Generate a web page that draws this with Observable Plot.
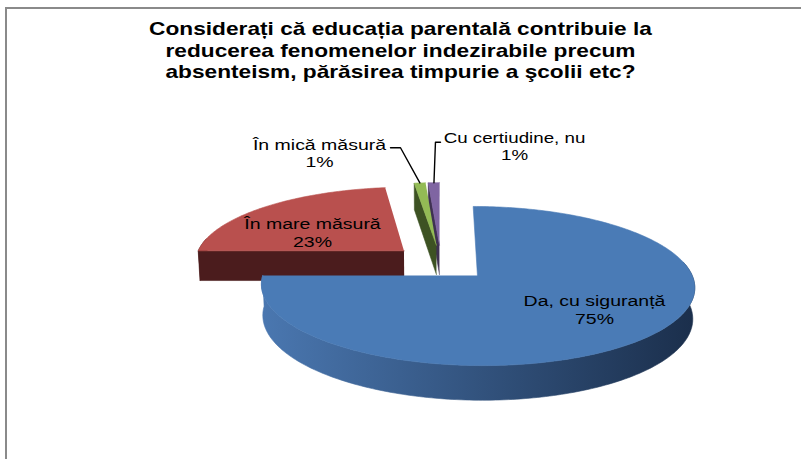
<!DOCTYPE html>
<html><head><meta charset="utf-8">
<script src="https://cdn.jsdelivr.net/npm/d3@7"></script>
<script src="https://cdn.jsdelivr.net/npm/@observablehq/plot@0.6"></script>
<style>
html,body{margin:0;padding:0;background:#fff;}
#wrap{position:relative;width:801px;height:459px;overflow:hidden;}
#wrap svg.chart{position:absolute;left:0;top:0;}
#frame{position:absolute;left:5px;top:7px;width:820px;height:470px;border-top:2px solid #8a8a8a;border-left:2px solid #8a8a8a;}
</style></head>
<body><div id="wrap"><div id="frame"></div></div>
<script>
// ---- data ----
const title = "Considerați că educația parentală contribuie la\nreducerea fenomenelor indezirabile precum\nabsenteism, părăsirea timpurie a şcolii etc?";
const categories = ["Da, cu siguranță", "În mare măsură", "În mică măsură", "Cu certiudine, nu"];
const values = [75, 23, 1, 1];
const topColors = ["#4a7bb6", "#b9504e", "#93bb55", "#7f65a2"];
const sideColors = ["#4a77b0", "#4b1c1d", "#3d5223", "#3f3152"];
const sideGradientEnd = "#1b2f4c";

// ---- layout ----
const W = 801, H = 459;
const CX = 440.5, CY = 262, S = 210, SINT = 0.356, COST = Math.sqrt(1 - SINT * SINT);
const DIST = 7.2, THICK = 0.155, EXPLODE = 0.24;
const labelPos = [[594, 309], [312, 232], [319, 152.5], [514, 145.5]];
const labelStretch = [1.3, 1.3, 1.3, 1.25];
const leaderLabels = [2, 3];
const FONT = "'Liberation Sans', Arial, sans-serif";
const deg = Math.PI / 180;

function proj(X, Z, h) {
  const v = Z * SINT + h * COST;
  const w = Z * COST - h * SINT;
  const s = DIST / (DIST + w);
  return [CX + S * X * s, CY - S * v * s];
}

const arcs = d3.pie().sort(null).value(d => d)(values);
const slices = arcs.map((a, i) => {
  const m = (a.startAngle + a.endAngle) / 2;
  const ox = EXPLODE * Math.sin(m), oz = EXPLODE * Math.cos(m);
  return {
    i, a0: a.startAngle, a1: a.endAngle, m, oz,
    rim: (t, h) => proj(ox + Math.sin(t), oz + Math.cos(t), h),
    ctr: h => proj(ox, oz, h)
  };
});

// gradient definition for the shaded side of the main slice
const gx0 = slices[0].rim(270 * deg, 0)[0], gx1 = slices[0].rim(90 * deg, 0)[0];
const defs = d3.select("#wrap").append("svg").attr("width", 0).attr("height", 0)
  .style("position", "absolute").append("defs");
const lg = defs.append("linearGradient").attr("id", "sideGrad")
  .attr("gradientUnits", "userSpaceOnUse").attr("x1", gx0).attr("x2", gx1).attr("y1", 0).attr("y2", 0);
lg.append("stop").attr("offset", 0).attr("stop-color", sideColors[0]);
lg.append("stop").attr("offset", 1).attr("stop-color", sideGradientEnd);

const polys = [];
let pid = 0;
function addPoly(pts, c) { const id = pid++; pts.forEach(([x, y]) => polys.push({id, x, y, c})); }
function arcPts(rim, t0, t1, h) {
  const n = Math.max(2, Math.ceil(Math.abs(t1 - t0) / deg));
  return d3.range(n + 1).map(k => rim(t0 + (t1 - t0) * k / n, h));
}

const order = slices.slice().sort((a, b) => b.oz - a.oz);
for (const s of order) {
  const T = -THICK;
  const s0 = Math.max(s.a0, 80 * deg), s1 = Math.min(s.a1, 280 * deg);
  if (s1 > s0) {
    addPoly([...arcPts(s.rim, s0, s1, 0), ...arcPts(s.rim, s1, s0, T)],
      s.i === 0 ? "url(#sideGrad)" : sideColors[s.i]);
  }
  if (Math.sin(s.a0) < -1e-6) addPoly([s.ctr(0), s.rim(s.a0, 0), s.rim(s.a0, T), s.ctr(T)], sideColors[s.i]);
  if (Math.sin(s.a1) > 1e-6) addPoly([s.ctr(0), s.rim(s.a1, 0), s.rim(s.a1, T), s.ctr(T)], sideColors[s.i]);
  addPoly([s.ctr(0), ...arcPts(s.rim, s.a0, s.a1, 0)], topColors[s.i]);
}

// labels
const labelData = categories.map((name, i) => ({
  x: labelPos[i][0], y: labelPos[i][1],
  t: name + "\n" + Math.round(values[i] / d3.sum(values) * 100) + "%"
}));

// leader lines
const leaders = [];
leaderLabels.forEach(i => {
  const s = slices[i];
  const end = s.rim(s.m, 0);
  const lp = labelPos[i];
  const line1Y = lp[1] - 8.75;
  let start, elbow;
  if (i === 2) { start = [lp[0] + 71, line1Y + 3.5]; elbow = [start[0] + 10, start[1]]; }
  else { start = [lp[0] - 74, line1Y + 5]; elbow = [end[0] + 1.5, start[1]]; }
  [start, elbow, end].forEach(([x, y]) => leaders.push({id: i, x, y}));
});

const svg = Plot.plot({
  width: W, height: H, margin: 0,
  className: "chart",
  x: {domain: [0, W], range: [0, W], axis: null},
  y: {domain: [0, H], range: [0, H], axis: null},
  color: {type: "identity"},
  style: {background: "transparent", fontFamily: FONT},
  marks: [
    Plot.line(polys, {x: "x", y: "y", z: "id", fill: "c", stroke: "c", strokeWidth: 0.6, curve: "linear"}),
    Plot.line(leaders, {x: "x", y: "y", z: "id", stroke: "#000", strokeWidth: 1.4}),
    Plot.text(labelData, {x: "x", y: "y", text: "t", fontSize: 15, lineHeight: 1.17, fill: "#000", fontFamily: FONT}),
    Plot.text([title], {x: () => 400, y: () => 49, text: d => d, fontSize: 18, fontWeight: "bold", lineHeight: 1.22, fill: "#000", fontFamily: FONT})
  ]
});
svg.classList.add("chart");

function stretchEl(t, k) {
  const tr = t.getAttribute("transform");
  if (tr) t.setAttribute("transform", tr + ` scale(${k},1)`);
  else {
    const x = +t.getAttribute("x") || 0, y = +t.getAttribute("y") || 0;
    t.setAttribute("x", 0); t.setAttribute("y", 0);
    t.setAttribute("transform", `translate(${x},${y}) scale(${k},1)`);
  }
}
const textGroups = Array.from(svg.querySelectorAll('g[aria-label="text"]'));
if (textGroups[0]) Array.from(textGroups[0].querySelectorAll("text")).forEach((t, i) => stretchEl(t, labelStretch[i] || 1.3));
if (textGroups[1]) textGroups[1].querySelectorAll("text").forEach(t => stretchEl(t, 1.26));

document.getElementById("wrap").appendChild(svg);
</script>
</body></html>
